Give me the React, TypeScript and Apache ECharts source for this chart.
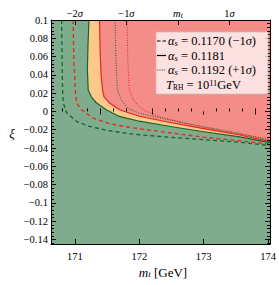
import React, { useEffect, useRef } from 'react';
import * as echarts from 'echarts';

const xRange = [170.63, 174.03];
const yRange = [-0.145, 0.1];

const xMajorTicks = [171, 172, 173, 174];
const xMinorTicks = [170.8, 171.2, 171.4, 171.6, 171.8, 172.2, 172.4, 172.6, 172.8, 173.2, 173.4, 173.6, 173.8];
const yMajorTicks = [-0.14, -0.12, -0.1, -0.08, -0.06, -0.04, -0.02, 0, 0.02, 0.04, 0.06, 0.08, 0.1];
const sigmaTicks = [171.0, 171.8, 172.6, 173.4];
const sigmaLabels = ['−2{i|σ}', '−1{i|σ}', '{i|m}{sub|t}', '1{i|σ}'];
const halfSigmaTicks = [171.4, 172.2, 173.0, 173.8];

// contour curves: [m_t (GeV), xi]
const dashedGreen = [
  [170.795, 0.1], [170.802, 0.0564], [170.81, 0.0236], [170.819, 0.0095], [170.872, -0.0015],
  [171.025, -0.0109], [171.23, -0.0164], [171.487, -0.0205], [171.742, -0.0233], [171.999, -0.0255],
  [172.461, -0.0282], [172.999, -0.0309], [173.538, -0.0336], [174.03, -0.0374],
];
const dashedRed = [
  [170.973, 0.1], [170.984, 0.0564], [171.007, 0.0236], [171.025, 0.0095], [171.102, 0.0018],
  [171.281, -0.0072], [171.512, -0.0127], [171.742, -0.0162], [171.999, -0.0189], [172.461, -0.0233],
  [172.999, -0.0282], [173.538, -0.032], [174.03, -0.0357],
];
const solidGreen = [
  [171.219, 0.1], [171.204, 0.0727], [171.195, 0.0455], [171.207, 0.0236], [171.256, 0.016],
  [171.333, 0.0095], [171.487, 0.0018], [171.692, -0.0055], [171.999, -0.0107], [172.461, -0.0162],
  [172.999, -0.0222], [173.538, -0.0276], [174.03, -0.0341],
];
const solidRed = [
  [171.384, 0.1], [171.392, 0.0673], [171.407, 0.04], [171.43, 0.0236], [171.453, 0.016],
  [171.538, 0.0091], [171.692, 0.0018], [171.999, -0.0053], [172.461, -0.0118], [172.999, -0.0189],
  [173.538, -0.0255], [174.03, -0.033],
];
const dottedGreen = [
  [171.625, 0.1], [171.638, 0.0564], [171.661, 0.0236], [171.718, 0.0127], [171.819, 0.0037],
  [171.999, -0.002], [172.461, -0.0091], [172.999, -0.0167], [173.538, -0.0238], [174.03, -0.0319],
];
const dottedRed = [
  [171.81, 0.1], [171.822, 0.0564], [171.845, 0.0236], [171.892, 0.0149], [171.969, 0.0073],
  [172.092, 0.0007], [172.307, -0.0058], [172.769, -0.014], [173.276, -0.0211], [174.03, -0.0303],
];

const GREEN_FILL = '#7fac8c';
const ORANGE_FILL = '#fdc98a';
const RED_FILL = '#f48c87';
const GREEN_LINE = '#15652a';
const RED_LINE = '#e8251d';
const FONT = 'Liberation Serif';
const TICK_FS = 10.5;

const yMinorTicks: number[] = [];
yMajorTicks.forEach((v) => {
  for (let k = 1; k <= 4; k++) {
    const t = Math.round((v + k * 0.004) * 1000) / 1000;
    if (t < yRange[1]) yMinorTicks.push(t);
  }
});
yMinorTicks.push(-0.144);

const fmtY = (v: number) => {
  const r = Math.round(v * 100) / 100;
  if (r === 0) return '0';
  return (r < 0 ? '−' : '') + String(Math.abs(r));
};

const corners = {
  bl: [xRange[0], yRange[0]],
  br: [xRange[1], yRange[0]],
  tr: [xRange[1], yRange[1]],
  tl: [xRange[0], yRange[1]],
};

const fillSeries = (pts: number[][], color: string) => ({
  type: 'custom',
  xAxisIndex: 0,
  yAxisIndex: 0,
  data: [[xRange[0], yRange[0]]],
  silent: true,
  z: 1,
  renderItem: (_p: any, api: any) => ({
    type: 'polygon',
    shape: { points: pts.map((p) => api.coord(p)) },
    style: { fill: color, stroke: null },
  }),
});

const lineSeries = (pts: number[][], color: string, type: any, width: number) => ({
  type: 'line',
  xAxisIndex: 0,
  yAxisIndex: 0,
  data: pts,
  showSymbol: false,
  symbol: 'none',
  silent: true,
  z: 3,
  lineStyle: { color, width, type, cap: 'butt', join: 'round' },
});

const labelRich = {
  i: { fontFamily: FONT, fontStyle: 'italic', fontSize: TICK_FS, color: '#000', lineHeight: 12 },
  sub: { fontFamily: FONT, fontStyle: 'italic', fontSize: 7.5, color: '#000', verticalAlign: 'bottom', lineHeight: 8 },
};

const xAxisBase = {
  type: 'value',
  min: xRange[0],
  max: xRange[1],
  gridIndex: 0,
  splitLine: { show: false },
  z: 5,
};
const yAxisBase = {
  type: 'value',
  min: yRange[0],
  max: yRange[1],
  gridIndex: 0,
  splitLine: { show: false },
  z: 5,
};
const axisLine = { show: true, onZero: false, lineStyle: { color: '#000', width: 1 } };

const LFS = 12.5;
const legendRich = {
  i: { fontFamily: FONT, fontStyle: 'italic', fontSize: LFS, fill: '#000' },
  sub: { fontFamily: FONT, fontStyle: 'italic', fontSize: 8.5, fill: '#000', verticalAlign: 'bottom', lineHeight: 9, padding: [7, 0, 0, 0] },
  subr: { fontFamily: FONT, fontSize: 7.5, fill: '#000', verticalAlign: 'bottom', lineHeight: 8, padding: [7, 0, 0, 0] },
  sup: { fontFamily: FONT, fontSize: 8.5, fill: '#000', verticalAlign: 'top', lineHeight: 9, padding: [0, 0, 6, 0] },
};

const legendText = (y: number, text: string, x = 168) => ({
  type: 'text',
  x,
  y,
  z: 11,
  style: {
    text,
    fontFamily: FONT,
    fontSize: LFS,
    fill: '#000',
    verticalAlign: 'middle',
    align: 'left',
    rich: legendRich,
  },
});

export default function App() {
  const ref = useRef<HTMLDivElement>(null);
  useEffect(() => {
    document.body.style.margin = '0';
    document.body.style.overflow = 'hidden';
    if (!ref.current) return;
    const chart = echarts.init(ref.current, undefined, { renderer: 'svg' });
    chart.setOption({
      animation: false,
      grid: { left: 51, right: 7, top: 20, bottom: 41, containLabel: false },
      xAxis: [
        {
          ...xAxisBase,
          position: 'bottom',
          axisLine,
          axisTick: { show: true, inside: true, length: 5, customValues: xMajorTicks, lineStyle: { color: '#000' } },
          axisLabel: {
            show: true,
            customValues: xMajorTicks,
            margin: 7,
            fontFamily: FONT,
            fontSize: TICK_FS,
            color: '#000',
            showMaxLabel: true,
            formatter: (v: number) => String(Math.round(v)),
          },
        },
        {
          ...xAxisBase,
          position: 'bottom',
          axisLine: { show: false },
          axisTick: { show: true, inside: true, length: 3, customValues: xMinorTicks, lineStyle: { color: '#000' } },
          axisLabel: { show: false },
        },
        {
          ...xAxisBase,
          position: 'top',
          axisLine,
          axisTick: { show: true, inside: true, length: 5, customValues: sigmaTicks, lineStyle: { color: '#000' } },
          axisLabel: {
            show: true,
            customValues: sigmaTicks,
            margin: 1,
            fontFamily: FONT,
            fontSize: TICK_FS,
            lineHeight: 12,
            color: '#000',
            rich: labelRich,
            formatter: (v: number) => {
              let best = 0;
              sigmaTicks.forEach((t, i) => {
                if (Math.abs(t - v) < Math.abs(sigmaTicks[best] - v)) best = i;
              });
              return sigmaLabels[best];
            },
          },
        },
        {
          ...xAxisBase,
          position: 'top',
          axisLine: { show: false },
          axisTick: { show: true, inside: true, length: 3, customValues: halfSigmaTicks, lineStyle: { color: '#000' } },
          axisLabel: { show: false },
        },
      ],
      yAxis: [
        {
          ...yAxisBase,
          position: 'left',
          axisLine,
          axisTick: { show: true, inside: true, length: 5, customValues: yMajorTicks, lineStyle: { color: '#000' } },
          axisLabel: {
            show: true,
            customValues: yMajorTicks,
            margin: 3,
            fontFamily: FONT,
            fontSize: TICK_FS,
            color: '#000',
            formatter: fmtY,
          },
        },
        {
          ...yAxisBase,
          position: 'left',
          axisLine: { show: false },
          axisTick: { show: true, inside: true, length: 3, customValues: yMinorTicks, lineStyle: { color: '#000' } },
          axisLabel: { show: false },
        },
        {
          ...yAxisBase,
          position: 'right',
          axisLine,
          axisTick: { show: true, inside: true, length: 5, customValues: yMajorTicks, lineStyle: { color: '#000' } },
          axisLabel: { show: false },
        },
        {
          ...yAxisBase,
          position: 'right',
          axisLine: { show: false },
          axisTick: { show: true, inside: true, length: 3, customValues: yMinorTicks, lineStyle: { color: '#000' } },
          axisLabel: { show: false },
        },
      ],
      series: [
        fillSeries([corners.bl, corners.br, corners.tr, corners.tl], RED_FILL),
        fillSeries([...solidRed, corners.br, corners.bl, corners.tl], ORANGE_FILL),
        fillSeries([...solidGreen, corners.br, corners.bl, corners.tl], GREEN_FILL),
        lineSeries(dottedRed, RED_LINE, [1, 1.5], 1),
        lineSeries(dottedGreen, GREEN_LINE, [1, 1.5], 1),
        lineSeries(dashedRed, RED_LINE, [4, 3], 1.3),
        lineSeries(dashedGreen, GREEN_LINE, [4, 3], 1.3),
        lineSeries(solidRed, RED_LINE, 'solid', 1.2),
        lineSeries(solidGreen, GREEN_LINE, 'solid', 1.2),
      ],
      graphic: [
        {
          type: 'rect',
          z: 10,
          shape: { x: 156, y: 32, width: 112, height: 62 },
          style: { fill: 'rgba(255,255,255,0.74)', stroke: 'rgba(200,190,190,0.9)', lineWidth: 0.8 },
        },
        { type: 'line', z: 11, shape: { x1: 157, y1: 41, x2: 166, y2: 41 }, style: { stroke: '#000', lineWidth: 1.2, lineDash: [3.5, 2] } },
        { type: 'line', z: 11, shape: { x1: 157, y1: 55.5, x2: 166, y2: 55.5 }, style: { stroke: '#000', lineWidth: 1.2 } },
        { type: 'line', z: 11, shape: { x1: 157, y1: 70, x2: 166, y2: 70 }, style: { stroke: '#000', lineWidth: 0.8, lineDash: [0.8, 1] } },
        legendText(41, '{i|α}{sub|s} = 0.1170 (−1{i|σ})'),
        legendText(55.5, '{i|α}{sub|s} = 0.1181'),
        legendText(70, '{i|α}{sub|s} = 0.1192 (+1{i|σ})'),
        legendText(84.5, '{i|T}{subr|RH} = 10{sup|11}GeV', 166),
        {
          type: 'text',
          x: 163,
          y: 272,
          z: 11,
          style: {
            text: '{i|m}{sub|t} [GeV]',
            fontFamily: FONT,
            fontSize: 13,
            fill: '#000',
            align: 'center',
            verticalAlign: 'middle',
            rich: {
              i: { fontFamily: FONT, fontStyle: 'italic', fontSize: 13, fill: '#000' },
              sub: { fontFamily: FONT, fontStyle: 'italic', fontSize: 9, fill: '#000', verticalAlign: 'bottom', lineHeight: 9, padding: [7, 0, 0, 0] },
            },
          },
        },
        {
          type: 'text',
          x: 12,
          y: 133,
          z: 11,
          style: { text: 'ξ', fontFamily: FONT, fontStyle: 'italic', fontSize: 13, fill: '#000', align: 'center', verticalAlign: 'middle' },
        },
      ],
    });
    return () => chart.dispose();
  }, []);
  return <div ref={ref} style={{ width: 279, height: 285 }} />;
}
